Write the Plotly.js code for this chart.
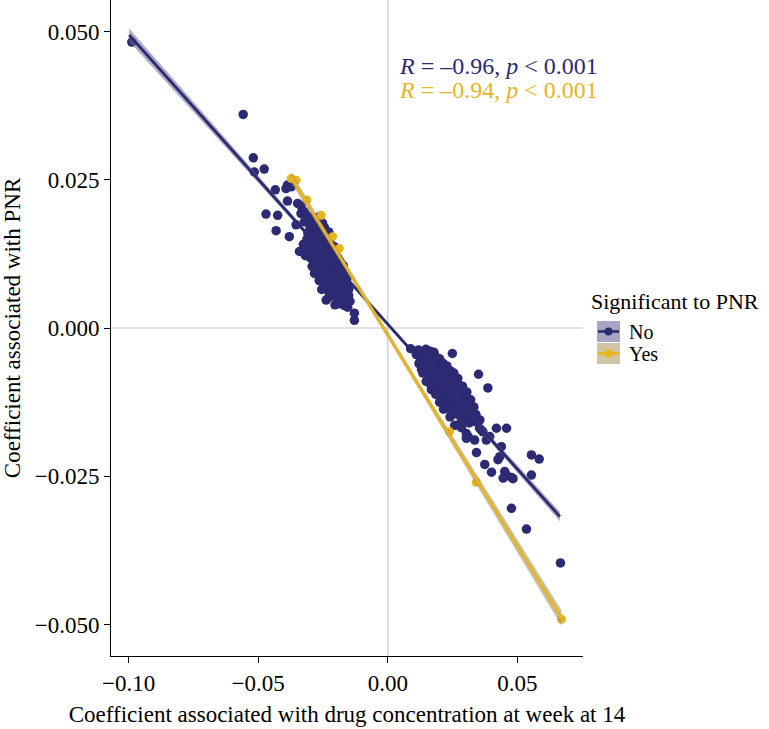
<!DOCTYPE html>
<html><head><meta charset="utf-8">
<script src="https://cdn.plot.ly/plotly-3.0.1.min.js"></script>
<style>html,body{margin:0;padding:0;background:#fff}#chart{width:769px;height:729px}</style>
</head><body><div id="chart"></div>
<script>
// Group "No" (not significant to PNR): [x, y] points
const noPoints = [
  [-0.0988,0.0482],[-0.0558,0.0360],[-0.0519,0.0287],[-0.0515,0.0263],[-0.0477,0.0268],[-0.0434,0.0233],
  [-0.0387,0.0241],[-0.0393,0.0235],[-0.0373,0.0238],[-0.0387,0.0214],[-0.0348,0.0210],[-0.0335,0.0206],
  [-0.0470,0.0192],[-0.0425,0.0190],[-0.0431,0.0164],[-0.0380,0.0154],[-0.0341,0.0129],[-0.0335,0.0193],
  [-0.0322,0.0179],[-0.0354,0.0174],[-0.0309,0.0160],[-0.0296,0.0145],[-0.0315,0.0137],[-0.0322,0.0196],
  [-0.0303,0.0188],[-0.0291,0.0179],[-0.0264,0.0188],[-0.0252,0.0177],[-0.0283,0.0092],[-0.0238,0.0047],
  [-0.0187,0.0053],[-0.0174,0.0047],[-0.0161,0.0042],[-0.0129,0.0025],[-0.0129,0.0013],[-0.0213,0.0061],
  [-0.0290,0.0128],[-0.0277,0.0117],[-0.0264,0.0109],[-0.0300,0.0170],[-0.0285,0.0185],[-0.0275,0.0172],
  [-0.0312,0.0150],[-0.0260,0.0178],[-0.0245,0.0170],[-0.0298,0.0118],[-0.0292,0.0104],[-0.0305,0.0143],
  [-0.0318,0.0122],[-0.0326,0.0141],[-0.0300,0.0131],[-0.0286,0.0110],[-0.0280,0.0100],[-0.0172,0.0105],
  [-0.0165,0.0093],[-0.0158,0.0083],[-0.0150,0.0066],[-0.0192,0.0118],[-0.0210,0.0128],[-0.0146,0.0045],
  [-0.0155,0.0035],[-0.0265,0.0080],[-0.0255,0.0065],
  [-0.0288,0.0163],[-0.0271,0.0160],[-0.0256,0.0165],[-0.0241,0.0159],[-0.0228,0.0162],
  [-0.0281,0.0150],[-0.0267,0.0147],[-0.0252,0.0151],[-0.0237,0.0146],[-0.0222,0.0149],
  [-0.0279,0.0136],[-0.0263,0.0139],[-0.0249,0.0134],[-0.0233,0.0138],[-0.0219,0.0135],[-0.0206,0.0137],
  [-0.0275,0.0123],[-0.0261,0.0126],[-0.0245,0.0122],[-0.0229,0.0125],[-0.0215,0.0121],[-0.0201,0.0124],
  [-0.0270,0.0113],[-0.0255,0.0110],[-0.0241,0.0114],[-0.0226,0.0111],[-0.0211,0.0113],[-0.0197,0.0109],[-0.0184,0.0112],
  [-0.0266,0.0099],[-0.0251,0.0102],[-0.0236,0.0098],[-0.0221,0.0101],[-0.0206,0.0099],[-0.0191,0.0102],[-0.0177,0.0098],
  [-0.0257,0.0089],[-0.0243,0.0086],[-0.0229,0.0090],[-0.0213,0.0087],[-0.0199,0.0089],[-0.0185,0.0086],[-0.0171,0.0089],
  [-0.0247,0.0075],[-0.0233,0.0078],[-0.0219,0.0074],[-0.0205,0.0077],[-0.0191,0.0075],[-0.0176,0.0078],[-0.0161,0.0074],
  [-0.0237,0.0065],[-0.0223,0.0062],[-0.0207,0.0066],[-0.0194,0.0063],[-0.0179,0.0065],[-0.0164,0.0062],
  [-0.0227,0.0052],[-0.0211,0.0055],[-0.0197,0.0051],[-0.0181,0.0054],[-0.0166,0.0052],[-0.0151,0.0055],
  [-0.0204,0.0039],[-0.0186,0.0041],[-0.0169,0.0038],
  [0.0088,-0.0035],[0.0249,-0.0043],[0.0350,-0.0078],[0.0386,-0.0101],[0.0135,-0.0076],[0.0168,-0.0104],
  [0.0245,-0.0147],[0.0258,-0.0164],[0.0284,-0.0168],[0.0419,-0.0169],[0.0458,-0.0169],[0.0342,-0.0210],
  [0.0374,-0.0230],[0.0425,-0.0222],[0.0432,-0.0217],[0.0400,-0.0243],[0.0451,-0.0242],[0.0458,-0.0248],
  [0.0477,-0.0252],[0.0483,-0.0254],[0.0445,-0.0253],[0.0554,-0.0214],[0.0584,-0.0221],[0.0554,-0.0248],
  [0.0438,-0.0200],[0.0380,-0.0189],[0.0393,-0.0183],[0.0354,-0.0169],[0.0367,-0.0175],[0.0303,-0.0178],
  [0.0310,-0.0183],[0.0477,-0.0304],[0.0535,-0.0339],[0.0666,-0.0396],[0.0361,-0.0172],[0.0335,-0.0189],
  [0.0303,-0.0186],
  [0.0200,-0.0052],[0.0228,-0.0064],[0.0255,-0.0076],[0.0270,-0.0085],[0.0288,-0.0098],[0.0305,-0.0108],
  [0.0320,-0.0121],[0.0332,-0.0133],[0.0340,-0.0146],[0.0355,-0.0155],[0.0110,-0.0045],[0.0120,-0.0060],
  [0.0130,-0.0070],[0.0148,-0.0090],[0.0165,-0.0095],[0.0185,-0.0112],[0.0200,-0.0125],[0.0215,-0.0137],
  [0.0240,-0.0150],
  [0.0118,-0.0037],[0.0132,-0.0040],[0.0147,-0.0036],[0.0163,-0.0039],[0.0178,-0.0041],
  [0.0125,-0.0049],[0.0140,-0.0052],[0.0156,-0.0048],[0.0171,-0.0051],[0.0186,-0.0049],
  [0.0136,-0.0063],[0.0151,-0.0060],[0.0167,-0.0064],[0.0182,-0.0061],[0.0198,-0.0063],[0.0214,-0.0060],
  [0.0149,-0.0073],[0.0164,-0.0076],[0.0180,-0.0072],[0.0195,-0.0075],[0.0211,-0.0073],[0.0226,-0.0076],[0.0240,-0.0072],
  [0.0163,-0.0087],[0.0178,-0.0084],[0.0194,-0.0088],[0.0209,-0.0085],[0.0225,-0.0087],[0.0240,-0.0084],[0.0256,-0.0088],
  [0.0181,-0.0097],[0.0196,-0.0100],[0.0212,-0.0096],[0.0227,-0.0099],[0.0243,-0.0097],[0.0258,-0.0100],[0.0274,-0.0096],
  [0.0197,-0.0111],[0.0213,-0.0108],[0.0228,-0.0112],[0.0244,-0.0109],[0.0259,-0.0111],[0.0275,-0.0108],[0.0290,-0.0112],
  [0.0213,-0.0121],[0.0229,-0.0124],[0.0244,-0.0120],[0.0260,-0.0123],[0.0275,-0.0121],[0.0291,-0.0124],[0.0306,-0.0120],
  [0.0230,-0.0135],[0.0246,-0.0132],[0.0262,-0.0136],[0.0277,-0.0133],[0.0293,-0.0135],[0.0309,-0.0132],
  [0.0264,-0.0145],[0.0280,-0.0148],[0.0296,-0.0144],[0.0311,-0.0147],[0.0326,-0.0145],
  [0.0282,-0.0159],[0.0298,-0.0156],[0.0314,-0.0160],[0.0329,-0.0157],[0.0344,-0.0159]
];
// Group "Yes" (significant to PNR)
const yesPoints = [
  [-0.0373,0.0252],[-0.0354,0.0249],[-0.0312,0.0216],[-0.0257,0.0190],[-0.0213,0.0154],
  [-0.0187,0.0134],[0.0238,-0.0175],[0.0341,-0.0260],[0.0670,-0.0491]
];
// Fitted regression lines (end points)
const noFitX = [-0.0998, 0.0664];
const noFitY = [0.0494, -0.0318];
const yesFitX = [-0.0373, 0.0670];
const yesFitY = [0.0254, -0.0489];
// Confidence band half-widths along each fit
const noBandX = [-0.0998, -0.06, -0.03, 0, 0.03, 0.0664];
const noBandHalf = [0.0011, 0.0007, 0.0004, 0.0003, 0.0004, 0.0008];
const yesBandX = [-0.0373, -0.015, 0.01, 0.04, 0.067];
const yesBandHalf = [0.0009, 0.0006, 0.0006, 0.0009, 0.0013];
// Labels
const legendTitle = "Significant to PNR";
const groupNames = ["No", "Yes"];
const corLabels = ["<i>R</i> = \u20130.96, <i>p</i> &lt; 0.001", "<i>R</i> = \u20130.94, <i>p</i> &lt; 0.001"];
const xTickVals = [-0.10, -0.05, 0.00, 0.05];
const xTickText = ["\u22120.10", "\u22120.05", "0.00", "0.05"];
const yTickVals = [-0.050, -0.025, 0.000, 0.025, 0.050];
const yTickText = ["\u22120.050", "\u22120.025", "0.000", "0.025", "0.050"];

const NAVY = "#2C2A72", GOLD = "#E8B51E";
const BAND_NO = "rgba(105,105,150,0.55)", BAND_YES = "rgba(160,148,115,0.6)";
const KEY_NO = "#A6A5C2", KEY_YES = "#CFC4A3";
const FONT = "'Liberation Serif', serif";

function fitAt(fx, fy, x) { return fy[0] + (fy[1] - fy[0]) * (x - fx[0]) / (fx[1] - fx[0]); }
function band(fx, fy, bx, bh) {
  const up = bx.map((x, i) => fitAt(fx, fy, x) + bh[i]);
  const lo = bx.map((x, i) => fitAt(fx, fy, x) - bh[i]);
  return { x: bx.concat(bx.slice().reverse()), y: up.concat(lo.reverse()) };
}
const nb = band(noFitX, noFitY, noBandX, noBandHalf);
const yb = band(yesFitX, yesFitY, yesBandX, yesBandHalf);

const traces = [
  { x: noPoints.map(p => p[0]), y: noPoints.map(p => p[1]), type: "scatter", mode: "markers", name: groupNames[0],
    marker: { color: NAVY, size: 9.5 }, showlegend: false },
  { x: yesPoints.map(p => p[0]), y: yesPoints.map(p => p[1]), type: "scatter", mode: "markers", name: groupNames[1],
    marker: { color: GOLD, size: 9 }, showlegend: false },
  { x: nb.x, y: nb.y, type: "scatter", mode: "lines", fill: "toself", fillcolor: BAND_NO,
    line: { width: 0 }, showlegend: false, hoverinfo: "skip" },
  { x: noFitX, y: noFitY, type: "scatter", mode: "lines", line: { color: NAVY, width: 2.8 }, showlegend: false },
  { x: yb.x, y: yb.y, type: "scatter", mode: "lines", fill: "toself", fillcolor: BAND_YES,
    line: { width: 0 }, showlegend: false, hoverinfo: "skip" },
  { x: yesFitX, y: yesFitY, type: "scatter", mode: "lines", line: { color: GOLD, width: 2.8 }, showlegend: false }
];

// Manual legend (ggplot-style keys: band square, line, point), in paper coordinates
const PW = 769 - 111 - 186, PH = 729 - 0 - 73;
const px = v => (v - 111) / PW, py = v => 1 - v / PH;
const keyColors = [[KEY_NO, NAVY], [KEY_YES, GOLD]];
const keyTops = [321, 343];
const legendShapes = [];
const legendAnns = [{ x: px(589), y: py(301), xref: "paper", yref: "paper", xanchor: "left", yanchor: "middle",
  showarrow: false, text: legendTitle, font: { family: FONT, size: 22, color: "#000" } }];
groupNames.forEach((g, i) => {
  const t = keyTops[i], c = keyColors[i];
  legendShapes.push({ type: "rect", xref: "paper", yref: "paper", x0: px(597), x1: px(620), y0: py(t), y1: py(t + 21),
    fillcolor: c[0], line: { width: 0 } });
  legendShapes.push({ type: "line", xref: "paper", yref: "paper", x0: px(598), x1: px(619), y0: py(t + 10.5), y1: py(t + 10.5),
    line: { color: c[1], width: 2.6 } });
  legendShapes.push({ type: "circle", xref: "paper", yref: "paper", x0: px(604.5), x1: px(612.5), y0: py(t + 6.5), y1: py(t + 14.5),
    fillcolor: c[1], line: { width: 0 } });
  legendAnns.push({ x: px(628), y: py(t + 10.5), xref: "paper", yref: "paper", xanchor: "left", yanchor: "middle",
    showarrow: false, text: g, font: { family: FONT, size: 20, color: "#000" }, height: 21, borderpad: 0 });
});

const layout = {
  width: 769, height: 729,
  margin: { l: 111, r: 186, t: 0, b: 73 },
  paper_bgcolor: "#fff", plot_bgcolor: "#fff",
  font: { family: FONT, color: "#000", size: 22 },
  showlegend: false,
  xaxis: {
    range: [-0.1068, 0.0753], tickvals: xTickVals, ticktext: xTickText,
    ticks: "outside", ticklen: 6, tickwidth: 1, tickcolor: "#000",
    showline: true, linecolor: "#000", linewidth: 1, showgrid: false, zeroline: false,
    tickfont: { family: FONT, size: 23, color: "#000" },
    title: { text: "Coefficient associated with drug concentration at week at 14",
             font: { family: FONT, size: 23, color: "#000" }, standoff: 11 }
  },
  yaxis: {
    range: [-0.0553, 0.0553], tickvals: yTickVals, ticktext: yTickText,
    ticks: "outside", ticklen: 6, tickwidth: 1, tickcolor: "#000",
    showline: true, linecolor: "#000", linewidth: 1, showgrid: false, zeroline: false,
    tickfont: { family: FONT, size: 23, color: "#000" },
    title: { text: "Coefficient associated with PNR",
             font: { family: FONT, size: 23, color: "#000" }, standoff: 8 }
  },
  shapes: [
    { type: "line", xref: "paper", yref: "y", x0: 0, x1: 1, y0: 0, y1: 0,
      line: { color: "#C4C4C4", width: 1.2 }, layer: "below" },
    { type: "line", xref: "x", yref: "paper", x0: 0, x1: 0, y0: 0, y1: 1,
      line: { color: "#C4C4C4", width: 1.2 }, layer: "below" }
  ].concat(legendShapes),
  annotations: [
    { x: 0.0036, y: 0.0441, xref: "x", yref: "y", xanchor: "left", yanchor: "middle", showarrow: false,
      text: corLabels[0], font: { family: FONT, size: 24, color: NAVY } },
    { x: 0.0036, y: 0.0402, xref: "x", yref: "y", xanchor: "left", yanchor: "middle", showarrow: false,
      text: corLabels[1], font: { family: FONT, size: 24, color: GOLD } }
  ].concat(legendAnns)
};

Plotly.newPlot("chart", traces, layout, { displayModeBar: false, staticPlot: true });
</script>
</body></html>
